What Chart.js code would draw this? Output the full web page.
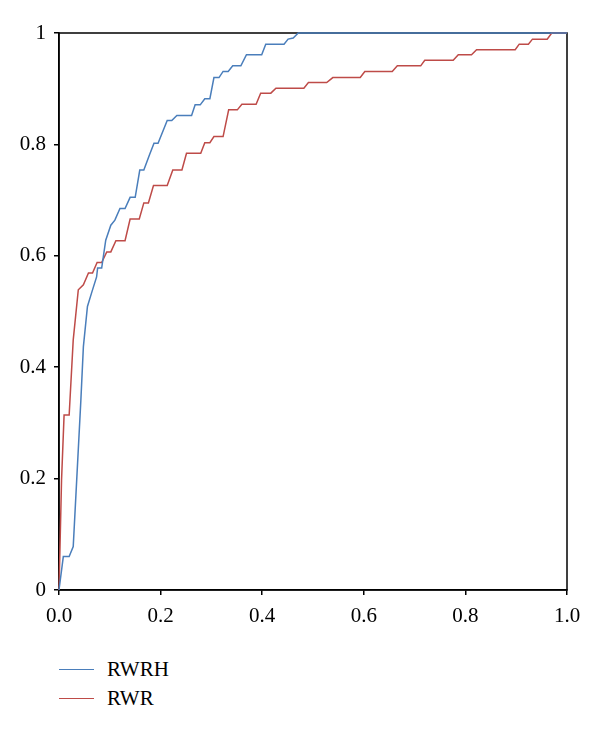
<!DOCTYPE html>
<html>
<head>
<meta charset="utf-8">
<script src="https://cdn.jsdelivr.net/npm/chart.js@4"></script>
<style>
  body { margin: 0; background: #fff; }
  #wrap { position: relative; width: 600px; height: 732px; }
  #chart { position: absolute; left: 0; top: 0; }
  .legend-item { position: absolute; left: 59px; height: 20px; font: 21px "Liberation Serif", serif; color: #000; }
  .legend-item span.swatch { position: absolute; left: 0; top: 9px; width: 35px; height: 0; border-top: 1.5px solid; }
  .legend-item span.label { position: absolute; left: 48px; top: -3px; white-space: nowrap; }
</style>
</head>
<body>
<div id="wrap">
  <canvas id="chart" width="600" height="650"></canvas>
  <div class="legend-item" style="top:660px"><span class="swatch" style="border-color:#4a7ebb"></span><span class="label">RWRH</span></div>
  <div class="legend-item" style="top:689px"><span class="swatch" style="border-color:#be4b48"></span><span class="label">RWR</span></div>
</div>
<script>
// ROC curve points
const rwrhX = [0, 0.0085, 0.02, 0.028, 0.043, 0.048, 0.056, 0.064, 0.074, 0.076, 0.084, 0.092, 0.102, 0.110,
  0.120, 0.130, 0.140, 0.150, 0.159, 0.167, 0.178, 0.187, 0.195, 0.213, 0.222, 0.232, 0.261, 0.268, 0.278,
  0.287, 0.297, 0.305, 0.315, 0.323, 0.333, 0.342, 0.358, 0.369, 0.399, 0.407, 0.443, 0.451, 0.461, 0.471, 1];
const rwrhY = [0, 0.06, 0.06, 0.078, 0.34, 0.437, 0.509, 0.533, 0.562, 0.578, 0.578, 0.628, 0.655, 0.664,
  0.685, 0.685, 0.705, 0.705, 0.754, 0.754, 0.781, 0.802, 0.802, 0.843, 0.843, 0.852, 0.852, 0.871, 0.871,
  0.882, 0.882, 0.920, 0.920, 0.931, 0.931, 0.941, 0.941, 0.961, 0.961, 0.980, 0.980, 0.989, 0.991, 1, 1];

const rwrX = [0, 0.005, 0.01, 0.02, 0.028, 0.038, 0.048, 0.058, 0.066, 0.075, 0.084, 0.094, 0.102, 0.112,
  0.130, 0.140, 0.158, 0.167, 0.176, 0.186, 0.213, 0.224, 0.242, 0.251, 0.279, 0.287, 0.297, 0.305, 0.323,
  0.334, 0.351, 0.360, 0.388, 0.397, 0.417, 0.427, 0.482, 0.491, 0.527, 0.539, 0.593, 0.602, 0.656, 0.666,
  0.712, 0.720, 0.776, 0.786, 0.812, 0.822, 0.898, 0.906, 0.924, 0.932, 0.961, 0.970, 1];
const rwrY = [0, 0.197, 0.314, 0.314, 0.449, 0.539, 0.548, 0.569, 0.569, 0.588, 0.588, 0.607, 0.607, 0.627,
  0.627, 0.666, 0.666, 0.695, 0.695, 0.726, 0.726, 0.754, 0.754, 0.784, 0.784, 0.803, 0.803, 0.814, 0.814,
  0.862, 0.862, 0.872, 0.872, 0.892, 0.892, 0.901, 0.901, 0.911, 0.911, 0.920, 0.920, 0.931, 0.931, 0.941,
  0.941, 0.951, 0.951, 0.961, 0.961, 0.970, 0.970, 0.980, 0.980, 0.989, 0.989, 1, 1];

const xTicks = [0, 0.2, 0.4, 0.6, 0.8, 1.0];
const yTicks = [0, 0.2, 0.4, 0.6, 0.8, 1];

function toPoints(xs, ys) {
  return xs.map((x, i) => ({ x: x, y: ys[i] }));
}

// frame on top and right side of the plot
const frame = {
  id: 'frame',
  beforeDatasetsDraw(chart) {
    const a = chart.chartArea;
    const c = chart.ctx;
    c.save();
    c.strokeStyle = '#000';
    c.lineWidth = 1.5;
    c.strokeRect(a.left, a.top, a.right - a.left, a.bottom - a.top);
    c.restore();
  }
};

const font = { family: '"Liberation Serif", serif', size: 21 };

new Chart(document.getElementById('chart'), {
  type: 'scatter',
  data: {
    datasets: [
      { label: 'RWRH', data: toPoints(rwrhX, rwrhY), showLine: true, borderColor: '#4a7ebb', borderWidth: 1.5, pointRadius: 0, clip: 4 },
      { label: 'RWR', data: toPoints(rwrX, rwrY), showLine: true, borderColor: '#be4b48', borderWidth: 1.5, pointRadius: 0, clip: 4 }
    ]
  },
  options: {
    responsive: false,
    animation: false,
    layout: { padding: { left: 0, top: 33, right: 33, bottom: 0 } },
    plugins: { legend: { display: false }, tooltip: { enabled: false } },
    scales: {
      x: {
        type: 'linear', min: 0, max: 1,
        afterBuildTicks: s => { s.ticks = xTicks.map(v => ({ value: v })); },
        afterFit: s => { s.height = 60; },
        grid: { display: true, drawOnChartArea: false, drawTicks: true, tickLength: 5, color: '#000', lineWidth: 1.5 },
        border: { display: true, color: '#000', width: 1.5 },
        ticks: { color: '#000', font: font, padding: 9, maxRotation: 0, callback: v => v.toFixed(1) }
      },
      y: {
        type: 'linear', min: 0, max: 1,
        afterBuildTicks: s => { s.ticks = yTicks.map(v => ({ value: v })); },
        afterFit: s => { s.width = 59; },
        grid: { display: true, drawOnChartArea: false, drawTicks: true, tickLength: 5, color: '#000', lineWidth: 1.5 },
        border: { display: true, color: '#000', width: 1.5 },
        ticks: { color: '#000', font: font, padding: 8, callback: v => String(v) }
      }
    }
  },
  plugins: [frame]
});
</script>
</body>
</html>
